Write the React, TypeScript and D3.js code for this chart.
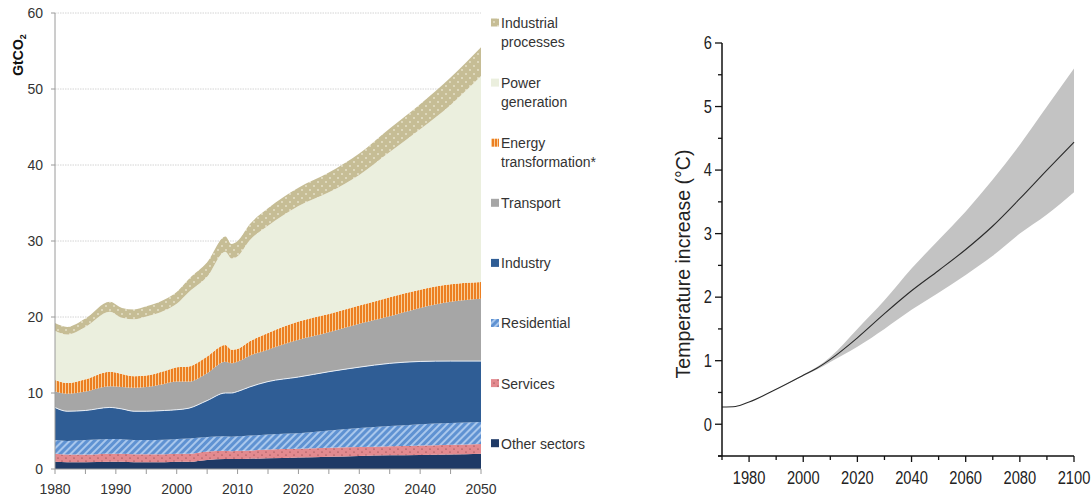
import React from "react";
import * as d3 from "d3";

// ---------- Left chart data (GtCO2, layer values) ----------
const years = [1980, 1982, 1985, 1989, 1991, 1993, 1995, 1998, 2000, 2002, 2005, 2008, 2009, 2010, 2012, 2015, 2020, 2025, 2030, 2035, 2040, 2045, 2050];
const otherSectors = [0.95, 0.9, 0.9, 0.95, 0.95, 0.9, 0.9, 0.9, 0.95, 0.95, 1.2, 1.3, 1.3, 1.3, 1.35, 1.4, 1.5, 1.6, 1.7, 1.8, 1.85, 1.9, 2.0];
const services = [1.05, 1.0, 1.0, 1.05, 1.05, 1.05, 1.05, 1.05, 1.05, 1.05, 1.1, 1.1, 1.05, 1.1, 1.1, 1.15, 1.15, 1.2, 1.2, 1.2, 1.25, 1.3, 1.3];
const residential = [1.8, 1.8, 1.9, 1.95, 1.9, 1.85, 1.85, 1.9, 1.95, 2.0, 1.9, 1.9, 1.9, 1.9, 1.95, 2.0, 2.05, 2.25, 2.5, 2.65, 2.8, 2.85, 2.9];
const industry = [4.3, 3.9, 3.9, 4.15, 4.0, 3.8, 3.8, 3.85, 3.85, 4.0, 4.8, 5.7, 5.75, 5.9, 6.4, 6.95, 7.4, 7.75, 8.0, 8.25, 8.25, 8.15, 8.0];
const transport = [2.1, 2.3, 2.5, 2.8, 2.9, 3.1, 3.2, 3.5, 3.7, 3.5, 3.6, 4.1, 3.9, 3.9, 4.1, 4.2, 4.9, 5.2, 5.7, 6.2, 7.05, 7.8, 8.2];
const energyTransformation = [1.5, 1.4, 1.6, 1.9, 1.7, 1.5, 1.5, 1.7, 1.9, 2.0, 2.2, 2.2, 1.8, 1.7, 1.9, 2.2, 2.4, 2.4, 2.4, 2.5, 2.4, 2.3, 2.2];
const powerGeneration = [6.5, 6.4, 6.9, 7.9, 7.4, 7.5, 7.75, 7.95, 8.35, 9.8, 10.5, 12.3, 12.0, 12.2, 13.3, 14.1, 15.2, 16.0, 17.2, 19.1, 21.1, 23.6, 27.1];
const industrialProcesses = [1.0, 1.0, 1.1, 1.3, 1.3, 1.3, 1.35, 1.45, 1.55, 1.7, 1.9, 2.0, 1.9, 2.0, 2.1, 2.3, 2.4, 2.6, 2.8, 3.1, 3.3, 3.6, 3.8];

const layerKeys = ["other", "services", "residential", "industry", "transport", "energy", "power", "processes"];
const layerValues: Record<string, number[]> = {
  other: otherSectors,
  services: services,
  residential: residential,
  industry: industry,
  transport: transport,
  energy: energyTransformation,
  power: powerGeneration,
  processes: industrialProcesses,
};
const layerFills: Record<string, string> = {
  other: "#1f3a66",
  services: "url(#pinkDots)",
  residential: "url(#blueHatch)",
  industry: "#2f5d95",
  transport: "#a6a6a6",
  energy: "url(#orangeStripes)",
  power: "#ebefde",
  processes: "url(#tanDots)",
};

const legendItems = [
  { key: "processes", lines: ["Industrial", "processes"] },
  { key: "power", lines: ["Power", "generation"] },
  { key: "energy", lines: ["Energy", "transformation*"] },
  { key: "transport", lines: ["Transport"] },
  { key: "industry", lines: ["Industry"] },
  { key: "residential", lines: ["Residential"] },
  { key: "services", lines: ["Services"] },
  { key: "other", lines: ["Other sectors"] },
];

const leftYTicks = [0, 10, 20, 30, 40, 50, 60];
const leftXLabels = [1980, 1990, 2000, 2010, 2020, 2030, 2040, 2050];
const leftXTicks = d3.range(1980, 2051, 5);

// ---------- Right chart data (temperature increase, °C) ----------
const tYears = [1970, 1975, 1980, 1990, 2000, 2005, 2010, 2020, 2030, 2040, 2050, 2060, 2070, 2080, 2090, 2100];
const tMedian = [0.27, 0.28, 0.35, 0.55, 0.77, 0.88, 1.02, 1.36, 1.74, 2.1, 2.42, 2.75, 3.12, 3.55, 4.0, 4.44];
const tUpper = [0.27, 0.28, 0.35, 0.55, 0.78, 0.9, 1.06, 1.5, 1.95, 2.45, 2.9, 3.35, 3.85, 4.4, 5.0, 5.6];
const tLower = [0.27, 0.28, 0.35, 0.55, 0.76, 0.86, 0.98, 1.22, 1.5, 1.8, 2.07, 2.35, 2.65, 3.0, 3.3, 3.65];
const rightYLabels = [0, 1, 2, 3, 4, 5, 6];
const rightYMinor = [-0.5, 0.5, 1.5, 2.5, 3.5, 4.5, 5.5];
const rightXLabels = [1980, 2000, 2020, 2040, 2060, 2080, 2100];
const rightXMinor = [1970, 1990, 2010, 2030, 2050, 2070, 2090];

const SANS = "'Liberation Sans', Arial, Helvetica, sans-serif";
const NARROW_SCALE = 0.84;

export default function App() {
  // Left scales
  const x = d3.scaleLinear().domain([1980, 2050]).range([55, 481]);
  const y = d3.scaleLinear().domain([0, 60]).range([469, 13]);

  const rows = years.map((yr, i) => {
    const r: any = { year: yr };
    layerKeys.forEach((k) => (r[k] = layerValues[k][i]));
    return r;
  });
  const stacked = d3.stack<any>().keys(layerKeys)(rows);
  const area = d3
    .area<any>()
    .x((d) => x(d.data.year))
    .y0((d) => y(d[0]))
    .y1((d) => y(d[1]))
    .curve(d3.curveMonotoneX);
  const industryLayer = stacked.find((s) => s.key === "industry")!;
  const topLine = d3
    .line<any>()
    .x((d) => x(d.data.year))
    .y((d) => y(d[1]))
    .curve(d3.curveMonotoneX);

  // Right scales
  const xr = d3.scaleLinear().domain([1970, 2100]).range([722, 1074]);
  const yr = d3.scaleLinear().domain([-0.5, 6]).range([456, 43]);
  const band = d3
    .area<number>()
    .x((_, i) => xr(tYears[i]))
    .y0((_, i) => yr(tLower[i]))
    .y1((_, i) => yr(tUpper[i]))
    .curve(d3.curveMonotoneX);
  const medLine = d3
    .line<number>()
    .x((_, i) => xr(tYears[i]))
    .y((v) => yr(v))
    .curve(d3.curveMonotoneX);

  return (
    <svg
      width={1092}
      height={497}
      viewBox="0 0 1092 497"
      style={{ position: "absolute", left: 0, top: 0, background: "#fff" }}
    >
      <defs>
        <pattern id="tanDots" patternUnits="userSpaceOnUse" width={8} height={8}>
          <rect width={8} height={8} fill="#c6bd95" />
          <circle cx={2} cy={2} r={0.8} fill="#fbf8ec" />
          <circle cx={6} cy={6} r={0.8} fill="#fbf8ec" />
        </pattern>
        <pattern id="orangeStripes" patternUnits="userSpaceOnUse" width={3} height={10}>
          <rect width={3} height={10} fill="#f8cf9a" />
          <rect width={2} height={10} fill="#ec7f22" />
        </pattern>
        <pattern
          id="blueHatch"
          patternUnits="userSpaceOnUse"
          width={5}
          height={5}
          patternTransform="rotate(45)"
        >
          <rect width={5} height={5} fill="#5f92d2" />
          <rect width={2} height={5} fill="#a9c7ec" />
        </pattern>
        <pattern id="pinkDots" patternUnits="userSpaceOnUse" width={8} height={6}>
          <rect width={8} height={6} fill="#e38a8f" />
          <circle cx={2} cy={2} r={0.6} fill="#6b3035" />
          <circle cx={6} cy={5} r={0.6} fill="#6b3035" />
        </pattern>
      </defs>

      {/* ---------------- Left chart ---------------- */}
      {leftYTicks
        .filter((v) => v > 0)
        .map((v) => (
          <line
            key={"g" + v}
            x1={x(1980)}
            x2={x(2050)}
            y1={y(v)}
            y2={y(v)}
            stroke="#d4d4d4"
            strokeWidth={1}
            strokeDasharray="1.5,1"
          />
        ))}
      {stacked.map((s) => (
        <path key={s.key} d={area(s) || ""} fill={layerFills[s.key]} />
      ))}
      <path d={topLine(industryLayer) || ""} fill="none" stroke="#e8eef6" strokeWidth={1} />

      {/* left axes */}
      <line x1={x(1980)} x2={x(1980)} y1={y(60)} y2={y(0)} stroke="#9a9a9a" strokeWidth={1} />
      <line x1={x(1980)} x2={x(2050)} y1={y(0)} y2={y(0)} stroke="#9a9a9a" strokeWidth={1} />
      {leftYTicks.map((v) => (
        <g key={"ly" + v}>
          <line x1={x(1980) - 4} x2={x(1980)} y1={y(v)} y2={y(v)} stroke="#9a9a9a" />
          <text
            x={43}
            y={y(v)}
            dy="0.35em"
            textAnchor="end"
            fontFamily={SANS}
            fontSize={14}
            fill="#333"
          >
            {v}
          </text>
        </g>
      ))}
      {leftXTicks.map((t) => (
        <line key={"lxt" + t} x1={x(t)} x2={x(t)} y1={y(0)} y2={y(0) + 5} stroke="#9a9a9a" />
      ))}
      {leftXLabels.map((t) => (
        <text
          key={"lx" + t}
          x={x(t)}
          y={494}
          textAnchor="middle"
          fontFamily={SANS}
          fontSize={14}
          fill="#333"
        >
          {t}
        </text>
      ))}
      <text
        transform="translate(23,55) rotate(-90)"
        textAnchor="middle"
        fontFamily={SANS}
        fontSize={14}
        fontWeight="bold"
        fill="#111"
      >
        GtCO<tspan fontSize={9} dy={3}>2</tspan>
      </text>

      {/* legend */}
      {legendItems.map((it, i) => {
        const cy = 23 + i * 60.1;
        return (
          <g key={"lg" + it.key}>
            <rect x={491} y={cy - 4.5} width={8} height={8} fill={layerFills[it.key]} />
            {it.lines.map((ln, j) => (
              <text
                key={j}
                x={501}
                y={cy + j * 19}
                dy="0.35em"
                fontFamily={SANS}
                fontSize={14}
                fill="#333"
              >
                {ln}
              </text>
            ))}
          </g>
        );
      })}

      {/* ---------------- Right chart ---------------- */}
      <path d={band(tUpper) || ""} fill="#c3c3c3" />
      <path d={medLine(tMedian) || ""} fill="none" stroke="#2a2a2a" strokeWidth={1.1} />

      <line x1={xr(1970)} x2={xr(1970)} y1={yr(6)} y2={yr(-0.5)} stroke="#111" strokeWidth={1.5} />
      <line x1={xr(1970) - 4} x2={xr(2100)} y1={yr(-0.5)} y2={yr(-0.5)} stroke="#111" strokeWidth={1.5} />
      {rightYLabels.map((v) => (
        <g key={"ry" + v}>
          <line x1={xr(1970) - 7} x2={xr(1970)} y1={yr(v)} y2={yr(v)} stroke="#111" strokeWidth={1.3} />
          <text
            transform={`translate(712,${yr(v)}) scale(${NARROW_SCALE},1)`}
            dy="0.36em"
            textAnchor="end"
            fontFamily={SANS}
            fontSize={17.5}
            fill="#222"
          >
            {v}
          </text>
        </g>
      ))}
      {rightYMinor.map((v) => (
        <line key={"rym" + v} x1={xr(1970) - 4} x2={xr(1970)} y1={yr(v)} y2={yr(v)} stroke="#111" strokeWidth={1.3} />
      ))}
      {rightXLabels.map((t) => (
        <g key={"rx" + t}>
          <line x1={xr(t)} x2={xr(t)} y1={yr(-0.5)} y2={yr(-0.5) + 6} stroke="#111" strokeWidth={1.3} />
          <text
            transform={`translate(${xr(t)},484) scale(${NARROW_SCALE},1)`}
            textAnchor="middle"
            fontFamily={SANS}
            fontSize={17.5}
            fill="#222"
          >
            {t}
          </text>
        </g>
      ))}
      {rightXMinor.map((t) => (
        <line key={"rxm" + t} x1={xr(t)} x2={xr(t)} y1={yr(-0.5)} y2={yr(-0.5) + 4} stroke="#111" strokeWidth={1.3} />
      ))}
      <text
        transform="translate(690,264) rotate(-90)"
        textAnchor="middle"
        fontFamily={SANS}
        fontSize={19.5}
        fill="#222"
      >
        Temperature increase (°C)
      </text>
    </svg>
  );
}
